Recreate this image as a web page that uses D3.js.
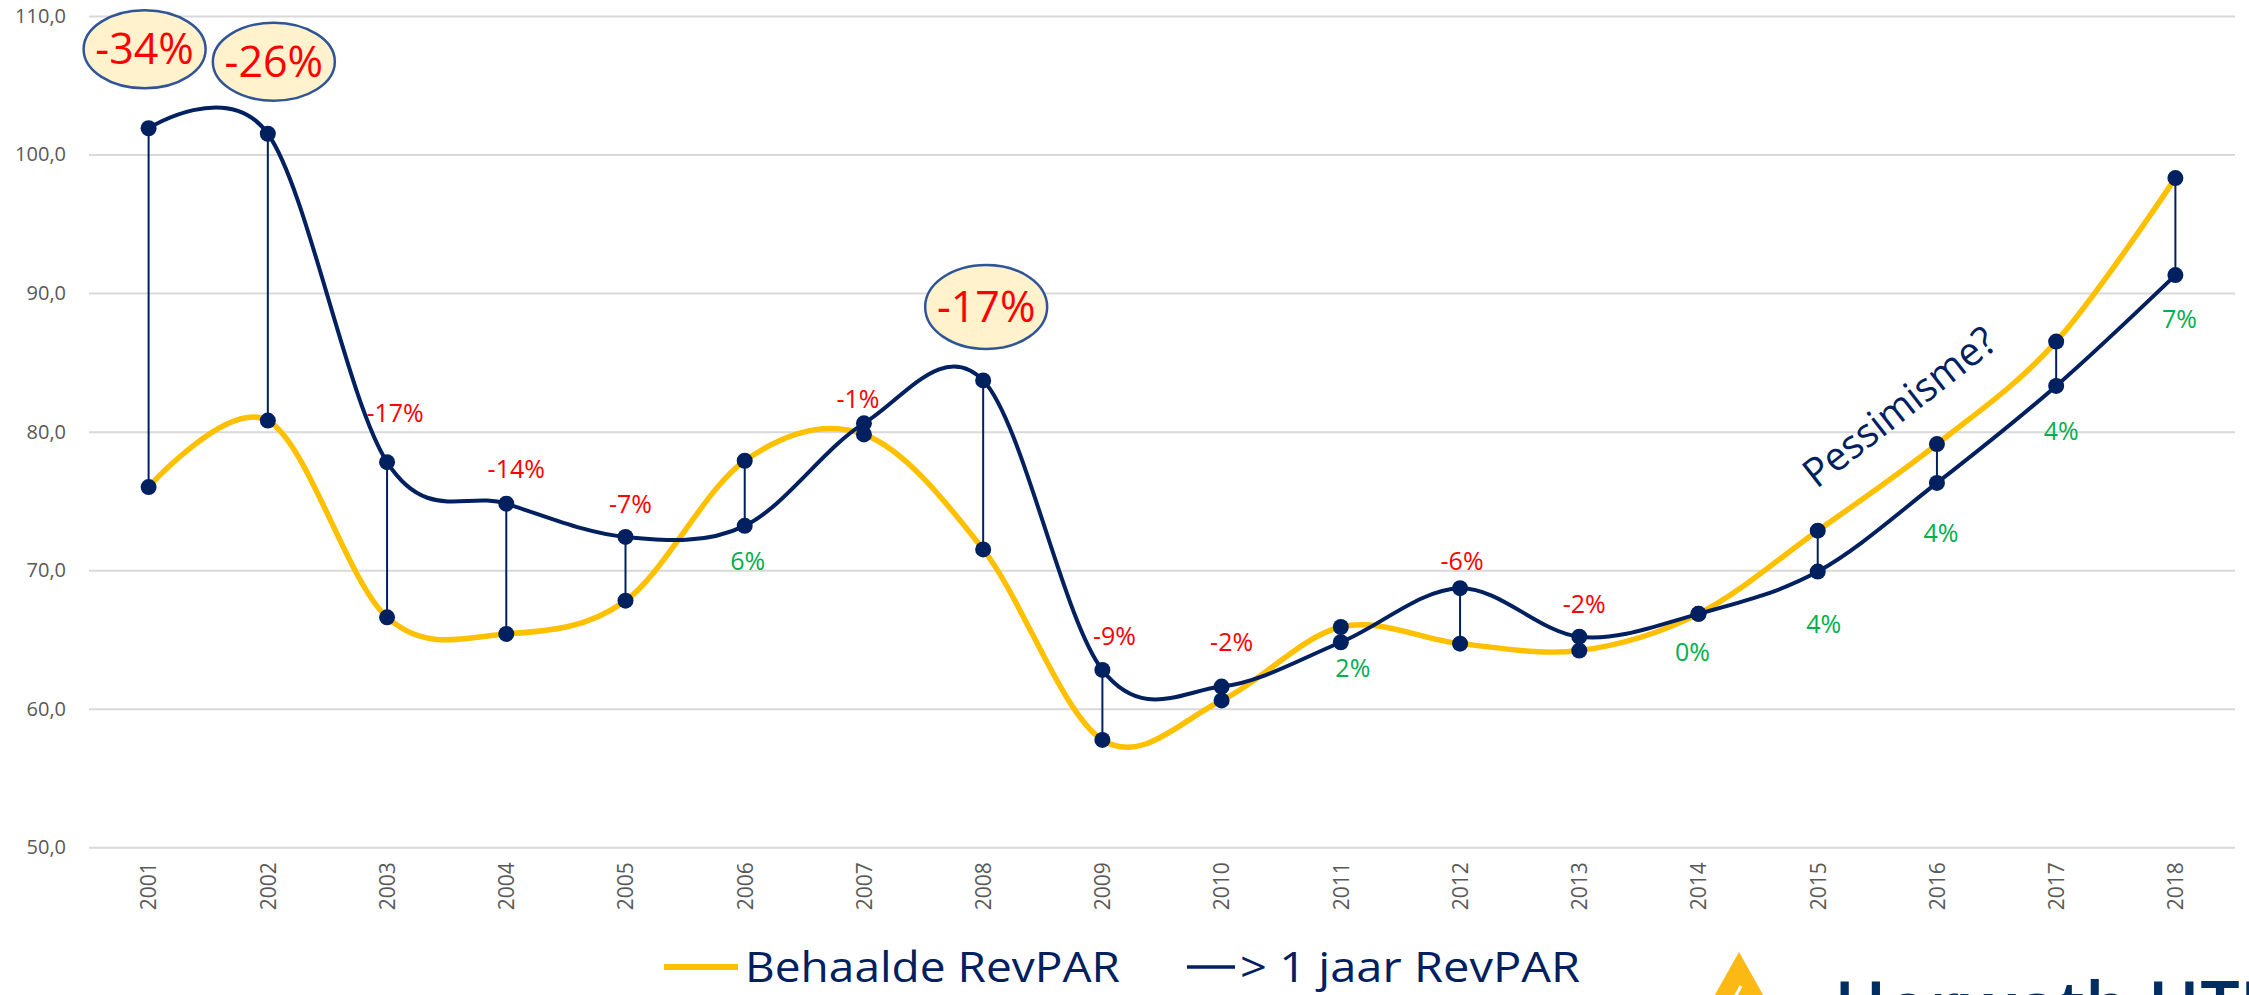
<!DOCTYPE html>
<html lang="nl">
<head>
    <meta charset="UTF-8">
    <title>RevPAR: behaald vs. prognose</title>
    <script src="https://d3js.org/d3.v7.min.js"></script>
    <style>
        body {
            margin: 0;
            background: #fff;
            font-family: 'Open Sans', sans-serif;
            overflow: hidden;
        }
    </style>
</head>
<body>
    <script>
        // data
        const years = ["2001", "2002", "2003", "2004", "2005", "2006", "2007", "2008", "2009",
                       "2010", "2011", "2012", "2013", "2014", "2015", "2016", "2017", "2018"];
        const behaald = [76.0, 80.8, 66.6, 65.4, 67.8, 77.9, 79.8, 71.5, 57.75,
                         60.6, 65.9, 64.7, 64.2, 66.85, 72.85, 79.1, 86.5, 98.3];
        const prognose = [101.9, 101.5, 77.8, 74.8, 72.4, 73.2, 80.6, 83.7, 62.8,
                          61.6, 64.8, 68.7, 65.2, 66.85, 69.9, 76.3, 83.3, 91.3];
        const verschil = ["-34%", "-26%", "-17%", "-14%", "-7%", "6%", "-1%", "-17%", "-9%",
                          "-2%", "2%", "-6%", "-2%", "0%", "4%", "4%", "4%", "7%"];
        const callouts = ["2001", "2002", "2008"];   // years shown in a bubble
        const yTicks = [50, 60, 70, 80, 90, 100, 110];
        const seriesNames = ["Behaalde RevPAR", "> 1 jaar RevPAR"];

        // label nudges (px) so labels sit where they do in the original
        const labelNudge = {
            "2003": [8, -40], "2004": [10, -26], "2005": [5, -24], "2006": [3, 44],
            "2007": [-6, -15], "2009": [12, -25], "2010": [10, -36], "2011": [12, 35],
            "2012": [2, -18], "2013": [5, -24], "2014": [-6, 47], "2015": [6, 61],
            "2016": [4, 59], "2017": [5, 54], "2018": [4, 53]
        };
        const bubbleAt = { "2001": [-4, 107.6], "2002": [6, 106.7], "2008": [3, 89.0] };

        const width = 2249, height = 995;
        const navy = "#002060", gold = "#FFC000";

        const svg = d3.select("body").append("svg")
            .attr("width", width)
            .attr("height", height);

        const x = d3.scalePoint().domain(years).range([89, 2235]).padding(0.5);
        const y = d3.scaleLinear().domain([50, 110]).range([847.3, 16]);

        // y axis + gridlines
        const yAxis = svg.append("g")
            .attr("transform", "translate(89,0)")
            .call(d3.axisLeft(y).tickValues(yTicks).tickSize(-(2235 - 89)).tickPadding(23)
                .tickFormat(d => d.toFixed(1).replace(".", ",")));
        yAxis.select(".domain").remove();
        yAxis.selectAll("line").attr("stroke", "#D9D9D9").attr("stroke-width", 2);
        yAxis.selectAll("text").attr("fill", "#595959").style("font-size", "20px")
            .style("font-family", "'Open Sans', sans-serif");

        // x axis
        const xAxis = svg.append("g")
            .attr("transform", `translate(0,${y(50)})`)
            .call(d3.axisBottom(x).tickSize(0));
        xAxis.select(".domain").remove();
        xAxis.selectAll("text")
            .attr("fill", "#595959").style("font-size", "21px")
            .style("font-family", "'Open Sans', sans-serif")
            .attr("transform", "rotate(-90)")
            .attr("text-anchor", "end")
            .attr("x", -15).attr("y", 0).attr("dy", "0.35em");

        const rows = years.map((yr, i) => ({ yr, a: behaald[i], p: prognose[i], lbl: verschil[i] }));

        const line = d3.line().curve(d3.curveCardinal.tension(0));

        svg.append("path")
            .attr("d", line(rows.map(d => [x(d.yr), y(d.a)])))
            .attr("fill", "none").attr("stroke", gold).attr("stroke-width", 5.5);

        svg.append("path")
            .attr("d", line(rows.map(d => [x(d.yr), y(d.p)])))
            .attr("fill", "none").attr("stroke", navy).attr("stroke-width", 4);

        // drop lines between the two series
        svg.append("g").selectAll("line").data(rows).join("line")
            .attr("x1", d => x(d.yr)).attr("x2", d => x(d.yr))
            .attr("y1", d => y(d.a)).attr("y2", d => y(d.p))
            .attr("stroke", navy).attr("stroke-width", 2);

        // markers
        const dots = svg.append("g");
        dots.selectAll(".a").data(rows).join("circle").attr("class", "a")
            .attr("cx", d => x(d.yr)).attr("cy", d => y(d.a)).attr("r", 8).attr("fill", navy);
        dots.selectAll(".p").data(rows).join("circle").attr("class", "p")
            .attr("cx", d => x(d.yr)).attr("cy", d => y(d.p)).attr("r", 8).attr("fill", navy);

        // small difference labels
        svg.append("g").selectAll("text")
            .data(rows.filter(d => !callouts.includes(d.yr)))
            .join("text")
            .attr("x", d => x(d.yr) + labelNudge[d.yr][0])
            .attr("y", d => y(d.p) + labelNudge[d.yr][1])
            .attr("text-anchor", "middle")
            .style("font-size", "25px")
            .attr("fill", d => d.lbl.startsWith("-") ? "#FF0000" : "#00B050")
            .text(d => d.lbl);

        // bubbles
        const bub = svg.append("g").selectAll("g")
            .data(rows.filter(d => callouts.includes(d.yr)))
            .join("g")
            .attr("transform", d => `translate(${x(d.yr) + bubbleAt[d.yr][0]},${y(bubbleAt[d.yr][1])})`);
        bub.append("ellipse")
            .attr("rx", 61).attr("ry", d => d.yr === "2008" ? 42 : 39)
            .attr("fill", "#FFF2CC").attr("stroke", "#2F5597").attr("stroke-width", 2.5);
        bub.append("text")
            .attr("text-anchor", "middle").attr("y", 15)
            .style("font-size", "43px")
            .attr("fill", "#FF0000")
            .text(d => d.lbl);

        // annotation
        svg.append("text")
            .attr("transform", `translate(${x("2016") - 29},${y(81)}) rotate(-38)`)
            .attr("text-anchor", "middle")
            .attr("fill", navy)
            .style("font-size", "40px")
            .attr("textLength", 232).attr("lengthAdjust", "spacingAndGlyphs")
            .text("Pessimisme?");

        // legend
        const legend = svg.append("g");
        legend.append("line").attr("x1", 664).attr("x2", 738).attr("y1", 967).attr("y2", 967)
            .attr("stroke", gold).attr("stroke-width", 6);
        legend.append("text").attr("x", 745).attr("y", 982)
            .attr("fill", navy).style("font-size", "42px")
            .attr("textLength", 375).attr("lengthAdjust", "spacingAndGlyphs")
            .text(seriesNames[0]);
        legend.append("line").attr("x1", 1187).attr("x2", 1235).attr("y1", 967).attr("y2", 967)
            .attr("stroke", navy).attr("stroke-width", 3.5);
        legend.append("text").attr("x", 1240).attr("y", 982)
            .attr("fill", navy).style("font-size", "42px")
            .attr("textLength", 340).attr("lengthAdjust", "spacingAndGlyphs")
            .text(seriesNames[1]);

        // logo, cut off by the bottom edge as in the original
        const logo = svg.append("g");
        logo.append("path").attr("d", "M1739,952 L1766,1000 L1712,1000 Z").attr("fill", "#FDB913");
        logo.append("line").attr("x1", 1741).attr("y1", 986).attr("x2", 1735).attr("y2", 997)
            .attr("stroke", "#fff").attr("stroke-width", 3);
        logo.append("text").attr("x", 1834).attr("y", 1032)
            .attr("fill", "#002D62").style("font-size", "70px").style("font-weight", "600")
            .text("Horwath HTL");
    </script>
</body>
</html>
